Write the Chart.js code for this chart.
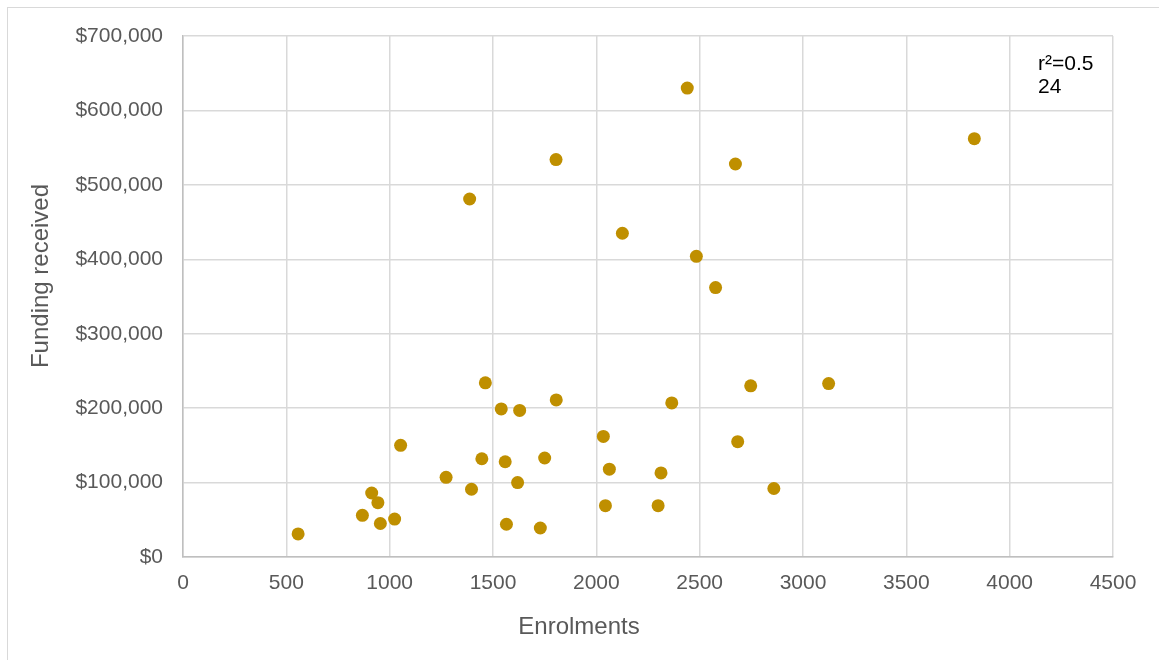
<!DOCTYPE html>
<html>
<head>
<meta charset="utf-8">
<script src="https://cdn.jsdelivr.net/npm/chart.js@4.4.1/dist/chart.umd.min.js"></script>
<style>
    body { margin: 0; background: #fff; }
    #frame {
        position: absolute; left: 7px; top: 7px; width: 1200px; height: 700px;
        border: 1px solid #d9d9d9;
    }
    #wrap { position: absolute; left: 0; top: 0; width: 1159px; height: 660px; }
</style>
</head>
<body>
<div id="frame"></div>
<div id="wrap"><canvas id="scatterChart" width="1159" height="660"></canvas></div>
<script>
// Enrolments vs funding, one value per school
const enrolments = [557, 868, 913, 943, 955, 1024, 1053, 1273, 1396, 1446, 1559, 1619, 1565,
    1750, 1729, 2034, 2063, 2044, 1463, 1540, 1629, 1806, 2365, 2747, 3124, 2684, 2313,
    2859, 2299, 1387, 1805, 2440, 2673, 2126, 2484, 2577, 3829];
const funding = [31000, 56000, 86000, 73000, 45000, 51000, 150000, 107000, 91000, 132000,
    128000, 100000, 44000, 133000, 39000, 162000, 118000, 69000, 234000, 199000, 197000,
    211000, 207000, 230000, 233000, 155000, 113000, 92000, 69000, 481000, 534000, 630000,
    528000, 435000, 404000, 362000, 562000];

const xTickValues = [0, 500, 1000, 1500, 2000, 2500, 3000, 3500, 4000, 4500];
const yTickValues = [0, 100000, 200000, 300000, 400000, 500000, 600000, 700000];

const xTitle = 'Enrolments';
const yTitle = 'Funding received';
const rSquaredLines = ['r\u00B2=0.5', '24'];

const fontFamily = '"Liberation Sans", Arial, sans-serif';
const gray = '#595959';

let points = [];
for (let i = 0; i < enrolments.length; i++) {
    points.push({ x: enrolments[i], y: funding[i] });
}

// axis titles and the r² note, placed like the Excel original
const extraText = {
    id: 'extraText',
    afterDraw(chart) {
        const ctx = chart.ctx;
        const area = chart.chartArea;
        ctx.save();
        ctx.fillStyle = gray;
        ctx.font = '24px ' + fontFamily;
        ctx.textAlign = 'center';
        ctx.textBaseline = 'middle';
        ctx.fillText(xTitle, 579, 627);
        ctx.translate(41, 276);
        ctx.rotate(-Math.PI / 2);
        ctx.fillText(yTitle, 0, 0);
        ctx.restore();

        ctx.save();
        ctx.fillStyle = '#000';
        ctx.font = '21px ' + fontFamily;
        ctx.textAlign = 'left';
        ctx.textBaseline = 'alphabetic';
        rSquaredLines.forEach((line, i) => {
            ctx.fillText(line, area.right - 75, area.top + 34 + i * 23);
        });
        ctx.restore();
    }
};

new Chart(document.getElementById('scatterChart'), {
    type: 'scatter',
    data: {
        datasets: [{
            data: points,
            backgroundColor: '#BF8F00',
            borderWidth: 0,
            pointRadius: 6.5,
            pointHoverRadius: 6.5
        }]
    },
    options: {
        responsive: false,
        animation: false,
        events: [],
        layout: { padding: { left: 0, top: 36, right: 46, bottom: 60 } },
        plugins: {
            legend: { display: false },
            tooltip: { enabled: false }
        },
        scales: {
            x: {
                type: 'linear',
                min: 0,
                max: 4500,
                afterBuildTicks: (scale) => { scale.ticks = xTickValues.map(v => ({ value: v })); },
                afterFit: (scale) => { scale.height = 43; },
                grid: { color: '#d9d9d9', lineWidth: 1.5, drawTicks: false },
                border: { color: '#bfbfbf', width: 1.5 },
                ticks: {
                    color: gray,
                    padding: 14,
                    font: { family: fontFamily, size: 21 },
                    maxRotation: 0,
                    callback: (v) => String(v)
                }
            },
            y: {
                type: 'linear',
                min: 0,
                max: 700000,
                afterBuildTicks: (scale) => { scale.ticks = yTickValues.map(v => ({ value: v })); },
                afterFit: (scale) => { scale.width = 183; },
                grid: { color: '#d9d9d9', lineWidth: 1.5, drawTicks: false },
                border: { color: '#bfbfbf', width: 1.5 },
                ticks: {
                    color: gray,
                    padding: 20,
                    font: { family: fontFamily, size: 21 },
                    callback: (v) => '$' + v.toLocaleString('en-US')
                }
            }
        }
    },
    plugins: [extraText]
});
</script>
</body>
</html>
